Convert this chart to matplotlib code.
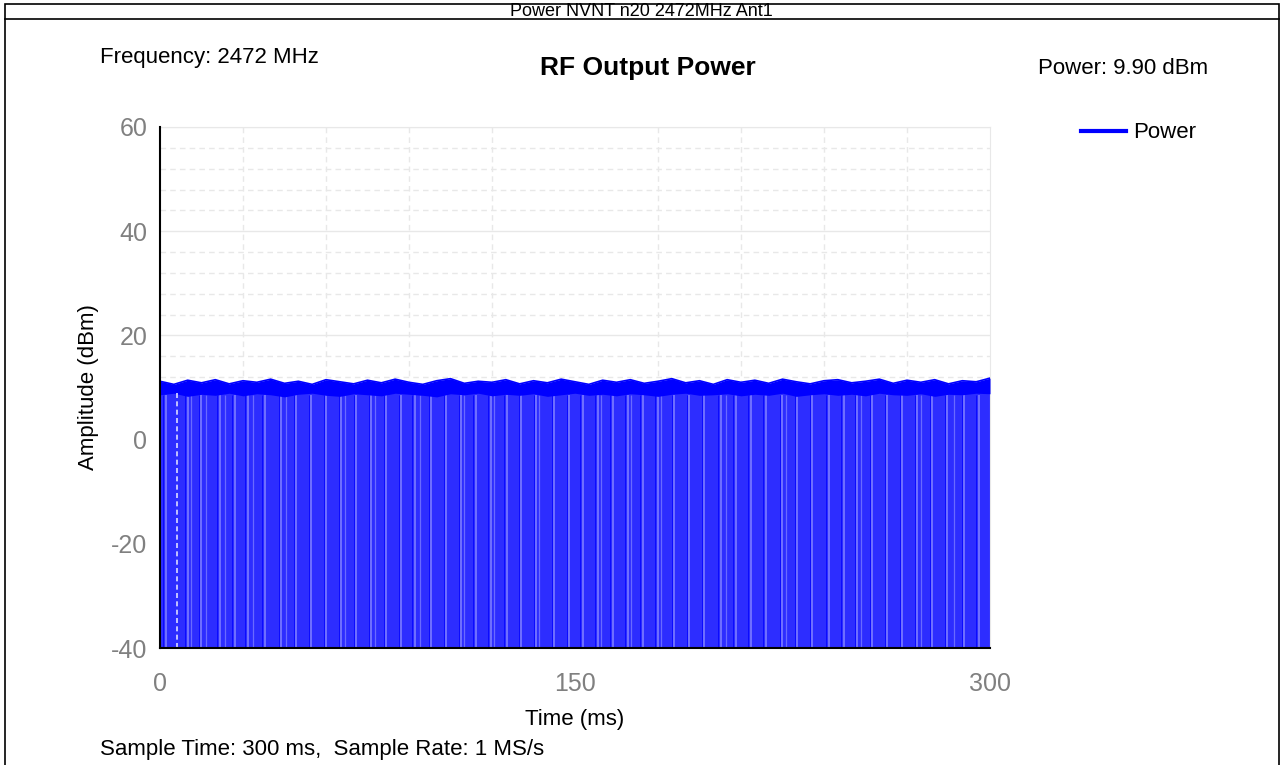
import matplotlib.pyplot as plt
from matplotlib.lines import Line2D
from matplotlib.patches import Rectangle
import numpy as np

plt.rcParams['font.family'] = ['Liberation Sans', 'DejaVu Sans']
plt.rcParams['axes.unicode_minus'] = False

W, H = 1282, 765

# gaps between bursts (ms)
gap_times = [2.0, 10.1, 14.9, 21.6, 27.0, 31.8, 37.8, 43.8, 49.3, 54.7, 60.1, 65.5,
             70.9, 76.4, 81.8, 87.2, 92.0, 98.1, 103.4, 108.8, 114.2, 119.6, 125.3,
             130.5, 135.9, 142.5, 147.9, 152.8, 158.2, 163.6, 169.0, 174.5, 179.9,
             185.9, 191.3, 196.7, 202.6, 208.1, 213.5, 218.9, 224.9, 230.3, 235.7,
             241.8, 247.2, 252.0, 257.5, 262.9, 268.3, 273.7, 279.1, 284.5, 290.6,
             296.0]
minor_gaps = [11.3, 16.7, 23.4, 33.6, 45.6, 66.7, 77.6, 93.8, 110.0, 120.8, 137.1,
              159.5, 170.2, 181.1, 204.4, 226.1, 253.2, 274.9, 287.0]

# top envelope of the burst level (dBm), every 5 ms
top_db = [11.2, 10.6, 11.4, 10.9, 11.5, 10.7, 11.3, 11.0, 11.6, 10.8, 11.2, 10.6,
          11.5, 11.1, 10.7, 11.4, 10.9, 11.6, 11.0, 10.6, 11.3, 11.7, 10.8, 11.2,
          11.0, 11.5, 10.7, 11.3, 10.9, 11.6, 11.1, 10.6, 11.4, 11.0, 11.5, 10.8,
          11.2, 11.7, 10.9, 11.3, 10.6, 11.5, 11.0, 11.4, 10.8, 11.6, 11.1, 10.7,
          11.3, 11.5, 10.9, 11.2, 11.6, 10.8, 11.4, 11.0, 11.5, 10.7, 11.3, 11.1,
          11.8]
low_db = [8.6, 8.9, 8.3, 8.7, 8.5, 8.9, 8.4, 8.8, 8.6, 8.2, 8.7, 8.9, 8.5, 8.3,
          8.8, 8.6, 8.4, 8.9, 8.7, 8.5, 8.2, 8.8, 8.6, 8.9, 8.4, 8.7, 8.5, 8.8,
          8.3, 8.6, 8.9, 8.5, 8.7, 8.4, 8.8, 8.6, 8.3, 8.7, 8.9, 8.5, 8.6, 8.8,
          8.4, 8.7, 8.5, 8.9, 8.3, 8.6, 8.8, 8.5, 8.7, 8.4, 8.9, 8.6, 8.5, 8.8,
          8.3, 8.7, 8.6, 8.9, 8.8]
top_t = np.linspace(0, 300, len(top_db))

fig = plt.figure(figsize=(W / 100, H / 100), dpi=100)

# outer frame + header row
fig.patches.append(Rectangle((5 / W, -0.01), 1274 / W, 1.01 - 4 / H, transform=fig.transFigure,
                             fill=False, ec='black', lw=1.2))
fig.add_artist(Line2D([5 / W, 1279 / W], [1 - 19 / H, 1 - 19 / H], color='black', lw=1.2))
fig.text(641 / W, 1 - 11 / H, "Power NVNT n20 2472MHz Ant1", ha='center', va='center', fontsize=13)

ax = fig.add_axes([160 / W, 1 - 648 / H, 830 / W, (648 - 127) / H])

# burst body, then the off-gaps as light stripes
ax.fill_between([0, 300], -40, 9, color='#2d2dff', lw=0, zorder=2)
ax.vlines(gap_times, -40, 8.5, color='#8282ff', lw=1.1, zorder=3)
ax.vlines(minor_gaps, -40, 8.5, color='#6a6aff', lw=0.9, zorder=3)
ax.vlines([g - 0.9 for g in gap_times], -40, 8.5, color='#0a0aff', lw=0.7, zorder=3)
ax.fill_between(top_t, low_db, top_db, color='#0000ff', lw=0, zorder=4)
ax.plot(top_t, top_db, color='#0000ff', lw=1.2, zorder=4)
ax.vlines(6, -40, 9, color='#dcdcff', lw=1.2, linestyles=(0, (3, 2)), zorder=5)

ax.set_xlim(0, 300)
ax.set_ylim(-40, 60)
ax.set_xticks([0, 150, 300])
ax.set_xticks(np.arange(0, 301, 30), minor=True)
ax.set_yticks([-40, -20, 0, 20, 40, 60])
ax.set_yticks(np.arange(-40, 61, 4), minor=True)
ax.grid(which='major', axis='y', color='#e8e8e8', lw=1.0, ls='-')
ax.grid(which='minor', axis='y', color='#e8e8e8', lw=1.0, ls=(0, (4, 3)))
ax.grid(which='minor', axis='x', color='#e8e8e8', lw=1.0, ls=(0, (4, 3)))
ax.set_axisbelow(True)
ax.tick_params(which='both', length=0)
ax.tick_params(axis='both', labelsize=18, labelcolor='#808080')
ax.tick_params(axis='y', pad=9)
ax.tick_params(axis='x', pad=17)
for s in ['top', 'right']:
    ax.spines[s].set_color('#e8e8e8')
for s in ['left', 'bottom']:
    ax.spines[s].set_color('black')
    ax.spines[s].set_linewidth(1.5)
    ax.spines[s].set_zorder(6)

ax.set_xlabel("Time (ms)", fontsize=16)
ax.xaxis.set_label_coords(0.5, -(720 - 648) / (648 - 127), transform=ax.transAxes)
ax.xaxis.label.set_va('center')
ax.set_ylabel("Amplitude (dBm)", fontsize=16)
ax.yaxis.set_label_coords(-(160 - 88) / 830, 0.5, transform=ax.transAxes)
ax.yaxis.label.set_va('center')

fig.text(100 / W, 1 - 58 / H, "Frequency: 2472 MHz", ha='left', va='center', fontsize=16)
fig.text(648 / W, 1 - 68 / H, "RF Output Power", ha='center', va='center', fontsize=19, fontweight='bold')
fig.text(1208 / W, 1 - 68 / H, "Power: 9.90 dBm", ha='right', va='center', fontsize=16)
fig.text(100 / W, 1 - 750 / H, "Sample Time: 300 ms,  Sample Rate: 1 MS/s", ha='left', va='center', fontsize=16)

handle = Line2D([], [], color='#0000ff', lw=3)
fig.legend(handles=[handle], labels=['Power'], loc='center left',
           bbox_to_anchor=(1070 / W, 1 - 133 / H), frameon=False, fontsize=16,
           handlelength=2.0, handletextpad=0.35, borderpad=0)

fig.savefig("out.png", dpi=100)
